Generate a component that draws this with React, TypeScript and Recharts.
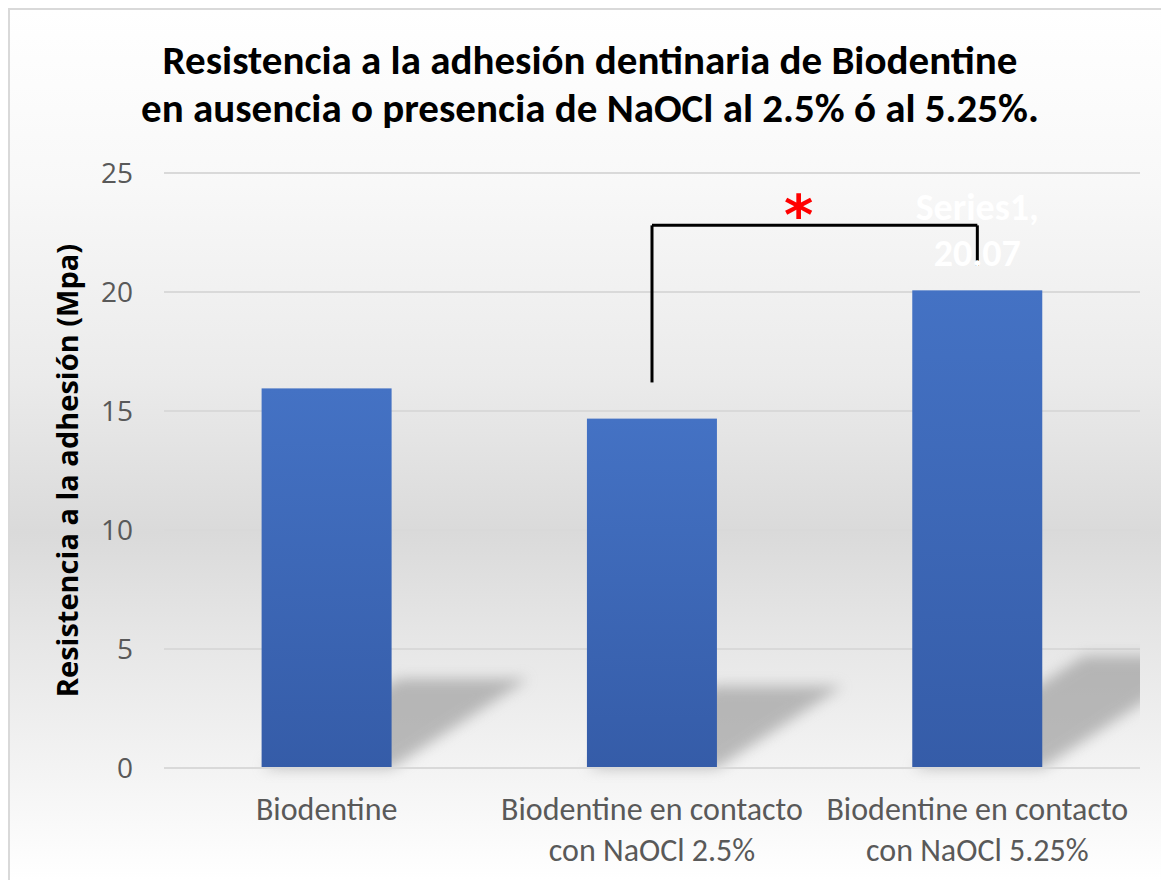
import { Bar, BarChart, CartesianGrid, LabelList, ReferenceLine, XAxis, YAxis } from "recharts";

const categories = [
    "Biodentine",
    "Biodentine en contacto con NaOCl 2.5%",
    "Biodentine en contacto con NaOCl 5.25%",
];
const tickLines = [
    ["Biodentine"],
    ["Biodentine en contacto", "con NaOCl 2.5%"],
    ["Biodentine en contacto", "con NaOCl 5.25%"],
];
const values = [15.95, 14.68, 20.07];
const yTicks = [0, 5, 10, 15, 20, 25];
const seriesName = "Series1";
const titleLines = [
    "Resistencia a la adhesión dentinaria de Biodentine",
    "en ausencia o presencia de NaOCl al 2.5% ó al 5.25%.",
];
const yTitle = "Resistencia a la adhesión (Mpa)";

// significance bracket between the 2.5% and 5.25% groups
const bracketFrom = categories[1];
const bracketTo = categories[2];
const bracketTop = 22.8;
const bracketLeftEnd = 16.2;
const bracketRightEnd = 21.1;

const data = categories.map((name, i) => ({ name, value: values[i] }));

const narrow = "Carlito, 'Liberation Sans Narrow', 'Open Sans', sans-serif";

const ShadowBar = (props: any) => {
    const { x, y, width, height } = props;
    const bottom = y + height;
    const dx = height * 0.36;
    const dy = height * 0.235;
    const pts = `${x},${bottom} ${x + width},${bottom} ${x + width + dx},${bottom - dy} ${x + dx},${bottom - dy}`;
    return (
        <g>
            <polygon points={pts} fill="#8a8a8a" opacity={0.55} filter="url(#barShadow)" />
            <rect x={x} y={y} width={width} height={height} fill="url(#barFill)" />
        </g>
    );
};

const DataLabel = (props: any) => {
    const { x, y, width, index, value } = props;
    if (index !== values.length - 1) return null;
    const cx = x + width / 2;
    return (
        <text textAnchor="middle" fill="#ffffff" fontWeight="bold" fontSize={38} fontFamily={narrow}>
            <tspan x={cx} y={y - 70}>{seriesName},</tspan>
            <tspan x={cx} y={y - 24}>{value}</tspan>
        </text>
    );
};

const CategoryTick = (props: any) => {
    const { x, y, payload } = props;
    const lines = tickLines[payload.index] ?? [payload.value];
    return (
        <text textAnchor="middle" fill="#595959" fontSize={32} fontFamily={narrow}>
            {lines.map((l: string, i: number) => (
                <tspan key={i} x={x} y={y + 52 + i * 41}>{l}</tspan>
            ))}
        </text>
    );
};

const Star = (props: any) => {
    const { viewBox } = props;
    const cx = viewBox.x + viewBox.width / 2 - 16;
    return (
        <text x={cx} y={viewBox.y + 9} textAnchor="middle" fill="#ff0000" fontSize={56} fontWeight="bold" fontFamily="'DejaVu Sans', sans-serif">
            *
        </text>
    );
};

const App = () => {
    return (
        <div
            style={{
                position: "fixed",
                left: 8,
                top: 8,
                width: 1153,
                height: 872,
                boxSizing: "border-box",
                borderTop: "2px solid #d9d9d9",
                borderLeft: "2px solid #d9d9d9",
                background:
                    "linear-gradient(to bottom, #ffffff 0%, #f8f8f8 20%, #ebebeb 42%, #dadada 60%, #e6e6e6 72%, #f4f4f4 88%, #ffffff 100%)",
                overflow: "hidden",
            }}
        >
            <svg width={0} height={0} style={{ position: "absolute" }}>
                <defs>
                    <linearGradient id="barFill" x1="0" y1="0" x2="0" y2="1">
                        <stop offset="0%" stopColor="#4472c4" />
                        <stop offset="100%" stopColor="#355ca8" />
                    </linearGradient>
                    <filter id="barShadow" x="-30%" y="-40%" width="160%" height="180%">
                        <feGaussianBlur stdDeviation="7" />
                    </filter>
                </defs>
            </svg>
            <div
                style={{
                    position: "absolute",
                    left: 0,
                    top: 26,
                    width: 1160,
                    textAlign: "center",
                    fontFamily: narrow,
                    fontWeight: "bold",
                    fontSize: 41,
                    lineHeight: "48px",
                    color: "#000000",
                    whiteSpace: "nowrap",
                }}
            >
                {titleLines.map((t, i) => (
                    <div key={i}>{t}</div>
                ))}
            </div>
            <div style={{ position: "absolute", left: 0, top: 0 }}>
                <BarChart width={1130} height={860} data={data} margin={{ top: 163, right: 0, bottom: 0, left: 0 }} barCategoryGap="30%">
                    <CartesianGrid vertical={false} stroke="#d9d9d9" strokeWidth={2} />
                    <XAxis
                        dataKey="name"
                        height={102}
                        axisLine={{ stroke: "#d9d9d9", strokeWidth: 2 }}
                        tickLine={false}
                        tickSize={0}
                        tickMargin={0}
                        interval={0}
                        tick={<CategoryTick />}
                    />
                    <YAxis
                        domain={[0, 25]}
                        ticks={yTicks}
                        width={154}
                        axisLine={false}
                        tickLine={false}
                        tickSize={0}
                        tickMargin={31}
                        tick={{ fill: "#595959", fontSize: 28, fontFamily: "'Open Sans', sans-serif" }}
                        label={{
                            value: yTitle,
                            angle: -90,
                            position: "center",
                            dx: -19,
                            fill: "#000000",
                            fontSize: 29,
                            fontWeight: "bold",
                            fontFamily: "'Open Sans', sans-serif",
                        }}
                    />
                    <Bar dataKey="value" shape={<ShadowBar />} isAnimationActive={false}>
                        <LabelList dataKey="value" content={<DataLabel />} />
                    </Bar>
                    <ReferenceLine
                        segment={[{ x: bracketFrom, y: bracketLeftEnd }, { x: bracketFrom, y: bracketTop }]}
                        stroke="#000000"
                        strokeWidth={3}
                    />
                    <ReferenceLine
                        segment={[{ x: bracketFrom, y: bracketTop }, { x: bracketTo, y: bracketTop }]}
                        stroke="#000000"
                        strokeWidth={3}
                        label={<Star />}
                    />
                    <ReferenceLine
                        segment={[{ x: bracketTo, y: bracketTop }, { x: bracketTo, y: bracketRightEnd }]}
                        stroke="#000000"
                        strokeWidth={3}
                    />
                </BarChart>
            </div>
        </div>
    );
};

export default App;
